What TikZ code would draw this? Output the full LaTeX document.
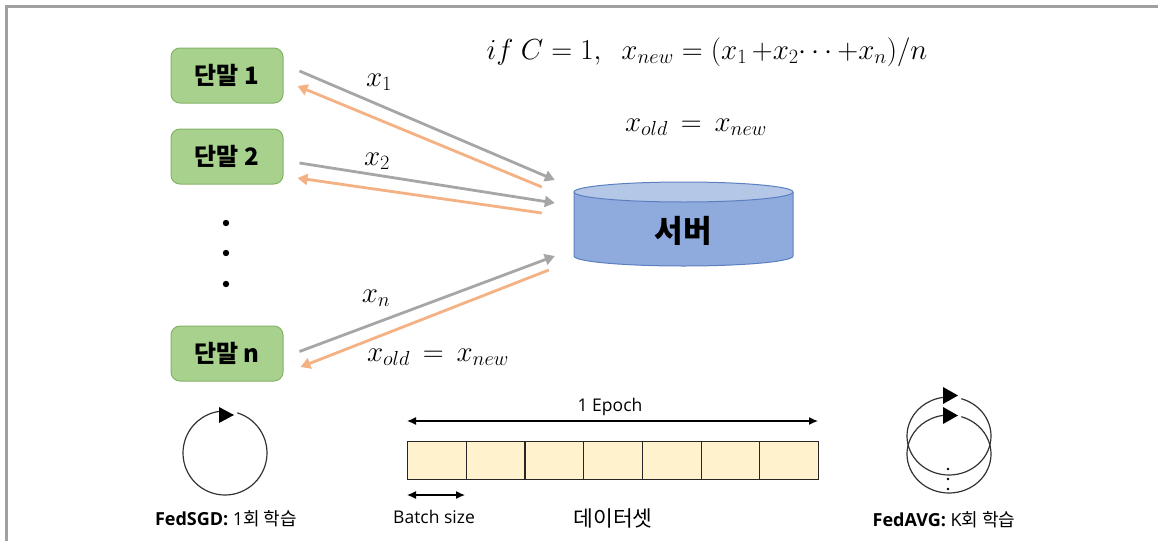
\RequirePackage{fix-cm}
\documentclass[tikz,border=0pt]{standalone}
\usepackage{fontspec}
\setmainfont{Open Sans}
\newfontfamily\kr{Noto Sans CJK KR}
\usetikzlibrary{arrows.meta,calc}
\definecolor{framegray}{HTML}{A0A0A0}
\definecolor{boxgreen}{HTML}{A9D18E}
\definecolor{boxedge}{HTML}{82B366}
\definecolor{cylbody}{HTML}{8FAADC}
\definecolor{cyltop}{HTML}{B4C7E7}
\definecolor{cyledge}{HTML}{5B7FC0}
\definecolor{upgray}{HTML}{A6A6A6}
\definecolor{downorange}{HTML}{F4B183}
\definecolor{cellyellow}{HTML}{FFF2CC}
\definecolor{ringgray}{HTML}{333333}
\tikzset{
  term/.style={draw=boxedge, line width=1pt, fill=boxgreen, rounded corners=9pt,
    minimum width=112pt, minimum height=55pt, inner sep=0pt,
    font=\kr\bfseries\fontsize{24}{28}\selectfont},
  uparrow/.style={draw=upgray, line width=2.8pt, -{Triangle[length=10pt,width=11pt]}},
  downarrow/.style={draw=downorange, line width=2.8pt, -{Triangle[length=10pt,width=11pt]}},
  mathlabel/.style={font=\fontsize{29}{34}\selectfont, inner sep=0pt},
  cell/.style={draw=black!85, line width=1.2pt, fill=cellyellow},
  ring/.style={draw=ringgray, line width=1.2pt},
  ringhead/.style={fill=black},
  dimarrow/.style={draw=black, line width=1.3pt, {Latex[length=9pt,width=8pt]}-{Latex[length=9pt,width=8pt]}},
  caption/.style={font=\fontsize{18}{21}\selectfont, inner sep=0pt},
}
\begin{document}
\begin{tikzpicture}[x=1pt,y=-1pt]
\useasboundingbox (0,0) rectangle (1158,541);
\draw[framegray, line width=3pt] (6.5,541) -- (6.5,6.5) -- (1158,6.5);

% terminals
\node[term] (t1) at (227,75.5) {단말 1};
\node[term] (t2) at (227,156.5) {단말 2};
\node[term] (tn) at (227,353.5) {단말 n};
\fill (226,223) circle (3.2);
\fill (226,253) circle (3.2);
\fill (226,284) circle (3.2);

% server cylinder
\fill[cylbody] (574,192) -- (574,256) arc[start angle=180, end angle=0, x radius=109.5, y radius=10] -- (793,192) -- cycle;
\draw[cyledge, line width=1pt] (574,192) -- (574,256) arc[start angle=180, end angle=0, x radius=109.5, y radius=10] -- (793,192);
\draw[cyledge, line width=1pt, fill=cyltop] (683.5,192) ellipse[x radius=109.5, y radius=10];
\node[font=\kr\bfseries\fontsize{31}{36}\selectfont, minimum width=219pt, minimum height=74pt, inner sep=0pt] (srv) at (683.5,231) {서버};

% arrows
\draw[uparrow] ($(t1.east)+(16,-4.5)$) -- ($(srv.west)+(-19,-51)$);
\draw[downarrow] ($(srv.west)+(-32,-44)$) -- ($(t1.east)+(14,10.5)$);
\draw[uparrow] ($(t2.east)+(16,6.5)$) -- ($(srv.west)+(-19,-28)$);
\draw[downarrow] ($(srv.west)+(-32,-18)$) -- ($(t2.east)+(14,21.5)$);
\draw[uparrow] ($(tn.east)+(16,-2)$) -- ($(srv.west)+(-19,25)$);
\draw[downarrow] ($(srv.west)+(-25,39)$) -- ($(tn.east)+(17,13.5)$);

% labels
\node[mathlabel] (l1) at (379,82) {$x_1$};
\node[mathlabel] (l2) at (377,161) {$x_2$};
\node[mathlabel] (ln) at (376,298) {$x_n$};
\node[mathlabel] (lold) at (438,357) {$x_{old}\,=\,x_{new}$};
\node[mathlabel] (f1) at (707,52) {$if\ C=1,\ \ x_{new}=(x_1\,{+}x_2{\cdots}\,{+}x_n)/n$};
\node[mathlabel] (f2) at (696,127) {$x_{old}\,=\,x_{new}$};

% FedSGD ring
\coordinate (sgd) at (225,453);
\draw[ring] (sgd) ++(287:42) arc[start angle=287, end angle=622, radius=42];
\fill[ringhead] (219,407) -- (234,415) -- (219,423) -- cycle;
\node[caption] (sgdcap) at (226,519) {\textbf{FedSGD:} 1{\kr 회 학습}};

% dataset
\foreach \i in {0,...,6} {
  \node[cell, minimum width=58.7pt, minimum height=38pt, inner sep=0pt, anchor=north west] (c\i) at ({407+58.7*\i},441) {};
}
\coordinate (ea) at (407,421);
\coordinate (eb) at (818,421);
\draw[dimarrow] (ea) -- (eb);
\node[caption, font=\fontsize{17.5}{20}\selectfont] (ep) at (610,407) {1 Epoch};
\coordinate (ba) at (407,495);
\coordinate (bb) at (465,495);
\draw[dimarrow] (ba) -- (bb);
\node[caption, font=\fontsize{17.5}{20}\selectfont] (bs) at (434,517) {Batch size};
\node[font=\kr\fontsize{21.5}{25}\selectfont, inner sep=0pt] (ds) at (613,518) {데이터셋};

% FedAVG rings
\coordinate (avg1) at (949,436);
\coordinate (avg2) at (949,454);
\draw[ring] (avg1) ++(-73:42 and 39) arc[start angle=287, end angle=622, x radius=42, y radius=39];
\draw[ring] (avg2) ++(-73:42 and 39) arc[start angle=287, end angle=622, x radius=42, y radius=39];
\fill[ringhead] (943,387) -- (958,395.5) -- (943,404) -- cycle;
\fill[ringhead] (943,407) -- (958,415.5) -- (943,424) -- cycle;
\fill (948,469) circle (1.4);
\fill (948,479) circle (1.4);
\fill (948,489) circle (1.4);
\node[caption] (avgcap) at (944,520) {\textbf{FedAVG:} K{\kr 회 학습}};
\end{tikzpicture}
\end{document}
